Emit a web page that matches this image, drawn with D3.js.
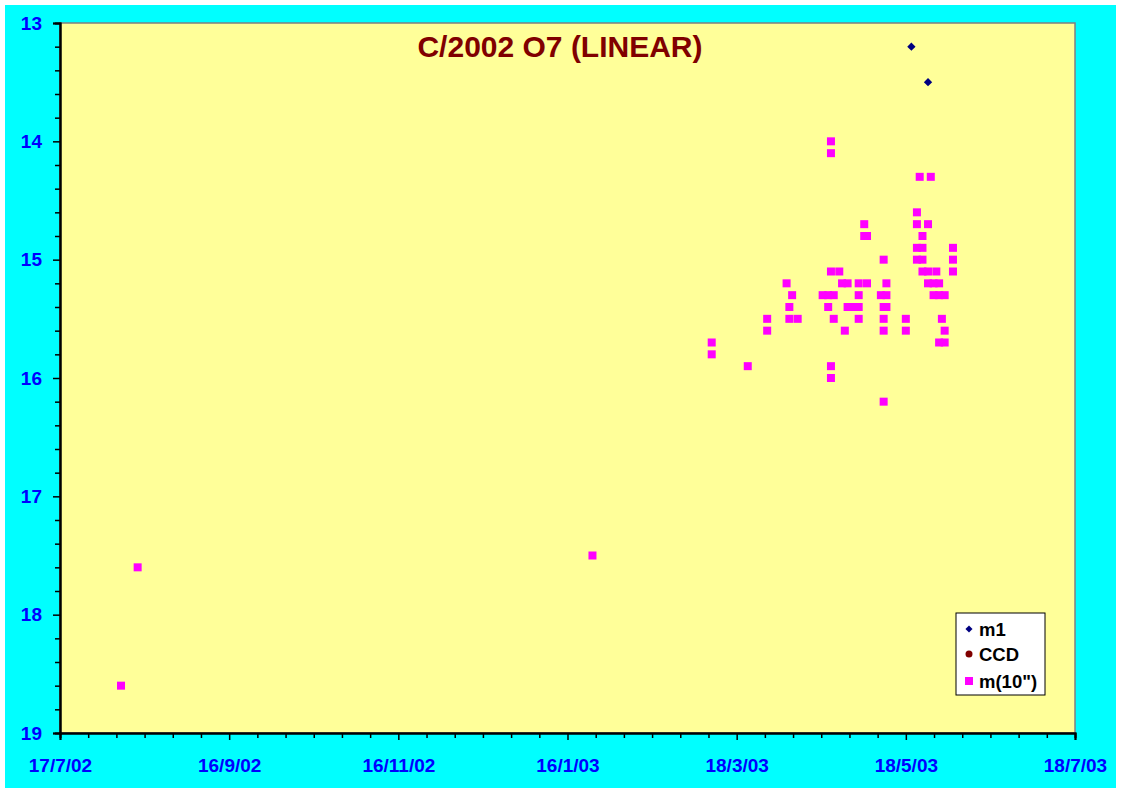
<!DOCTYPE html>
<html>
<head>
<meta charset="utf-8">
<script src="https://cdn.jsdelivr.net/npm/d3@7"></script>
<style>
  html, body { margin: 0; padding: 0; background: #ffffff; }
  svg { display: block; font-family: "Liberation Sans", Arial, sans-serif; }
</style>
</head>
<body>
<svg id="chart" width="1121" height="793"></svg>
<script>
// ---- data ----
const title = "C/2002 O7 (LINEAR)";
const xTickLabels = ["17/7/02", "16/9/02", "16/11/02", "16/1/03", "18/3/03", "18/5/03", "18/7/03"];
const yTicks = [13, 14, 15, 16, 17, 18, 19];
const seriesNames = ["m1", "CCD", "m(10\")"];

const m1Dates = ["2003-05-20", "2003-05-26"];
const m1Values = [13.2, 13.5];

const ccdDates = [];
const ccdValues = [];

const m10Dates = [
  "2002-08-08", "2002-08-14", "2003-01-25",
  "2003-03-09", "2003-03-09", "2003-03-22", "2003-03-29", "2003-03-29",
  "2003-04-05", "2003-04-06", "2003-04-07", "2003-04-06", "2003-04-09",
  "2003-04-18", "2003-04-20", "2003-04-22", "2003-04-20", "2003-04-22",
  "2003-04-21", "2003-04-21", "2003-04-21", "2003-04-24", "2003-04-21", "2003-04-21",
  "2003-04-25", "2003-04-27", "2003-04-27", "2003-04-29", "2003-05-01",
  "2003-04-26", "2003-05-01", "2003-05-04", "2003-05-01", "2003-05-01",
  "2003-05-03", "2003-05-03", "2003-05-04",
  "2003-05-10", "2003-05-11", "2003-05-09", "2003-05-11", "2003-05-10", "2003-05-11",
  "2003-05-10", "2003-05-10", "2003-05-10",
  "2003-05-18", "2003-05-18",
  "2003-05-23", "2003-05-27", "2003-05-22", "2003-05-22", "2003-05-26", "2003-05-24",
  "2003-05-22", "2003-05-24", "2003-06-04",
  "2003-05-22", "2003-05-24", "2003-06-04",
  "2003-05-24", "2003-05-26", "2003-05-29", "2003-06-04",
  "2003-05-26", "2003-05-28", "2003-05-30",
  "2003-05-28", "2003-05-30", "2003-06-01",
  "2003-05-31", "2003-06-01", "2003-05-30", "2003-06-01"
];
const m10Values = [
  18.6, 17.6, 17.5,
  15.7, 15.8, 15.9, 15.5, 15.6,
  15.2, 15.4, 15.3, 15.5, 15.5,
  15.3, 15.3, 15.3, 15.4, 15.5,
  14.0, 14.1, 15.1, 15.1, 15.9, 16.0,
  15.2, 15.2, 15.4, 15.4, 15.4,
  15.6, 15.2, 15.2, 15.3, 15.5,
  14.7, 14.8, 14.8,
  15.0, 15.2, 15.3, 15.3, 15.4, 15.4,
  15.5, 15.6, 16.2,
  15.5, 15.6,
  14.3, 14.3, 14.6, 14.7, 14.7, 14.8,
  14.9, 14.9, 14.9,
  15.0, 15.0, 15.0,
  15.1, 15.1, 15.1, 15.1,
  15.2, 15.2, 15.2,
  15.3, 15.3, 15.3,
  15.5, 15.6, 15.7, 15.7
];

// ---- layout ----
const svg = d3.select("#chart");
const plot = { left: 60, top: 23, right: 1075, bottom: 733 };

svg.append("rect").attr("x", 5).attr("y", 5).attr("width", 1111).attr("height", 783)
  .attr("fill", "#00FFFF");

const parse = d3.utcParse("%Y-%m-%d");
const xStart = parse("2002-07-17"), xEnd = parse("2003-07-18");
const x = d3.scaleUtc().domain([xStart, xEnd]).range([plot.left, plot.right]);
const y = d3.scaleLinear().domain([13, 19]).range([plot.top, plot.bottom]);

svg.append("rect")
  .attr("x", plot.left).attr("y", plot.top)
  .attr("width", plot.right - plot.left).attr("height", plot.bottom - plot.top)
  .attr("fill", "#FFFF99").attr("stroke", "#808080").attr("stroke-width", 1.5);

// Major x ticks every 61 days
const majorDates = xTickLabels.map((_, i) => d3.utcDay.offset(xStart, 61 * i));
const minorDates = [];
for (let i = 0; i < majorDates.length - 1; i++) {
  for (let k = 1; k < 6; k++) {
    minorDates.push(new Date(majorDates[i].getTime() + (majorDates[i + 1] - majorDates[i]) * k / 6));
  }
}

const fontFam = "Liberation Sans, Arial, sans-serif";

// x axis
const xAxisMinor = d3.axisBottom(x).tickValues(minorDates).tickSize(5).tickFormat("");
const xAxisMajor = d3.axisBottom(x).tickValues(majorDates).tickSize(7)
  .tickFormat((d, i) => xTickLabels[i]).tickPadding(19);
const gxMinor = svg.append("g").attr("transform", `translate(0,${plot.bottom})`).call(xAxisMinor);
const gx = svg.append("g").attr("transform", `translate(0,${plot.bottom})`).call(xAxisMajor);
[gxMinor, gx].forEach(g => {
  g.select(".domain").attr("stroke", "#000").attr("stroke-width", 2);
  g.selectAll(".tick line").attr("stroke", "#000").attr("stroke-width", 1.5);
});
gx.selectAll(".tick text").attr("fill", "#0000FF").attr("font-size", 19).attr("font-weight", "bold")
  .attr("font-family", fontFam);

// y axis
const yMinor = d3.range(13, 19.001, 0.2).map(v => +v.toFixed(1)).filter(v => !yTicks.includes(v));
const yAxisMinor = d3.axisLeft(y).tickValues(yMinor).tickSize(5).tickFormat("");
const yAxisMajor = d3.axisLeft(y).tickValues(yTicks).tickSize(7).tickPadding(11).tickFormat(d3.format("d"));
const gyMinor = svg.append("g").attr("transform", `translate(${plot.left},0)`).call(yAxisMinor);
const gy = svg.append("g").attr("transform", `translate(${plot.left},0)`).call(yAxisMajor);
[gyMinor, gy].forEach(g => {
  g.select(".domain").attr("stroke", "#000").attr("stroke-width", 2);
  g.selectAll(".tick line").attr("stroke", "#000").attr("stroke-width", 1.5);
});
gy.selectAll(".tick text").attr("fill", "#0000FF").attr("font-size", 19).attr("font-weight", "bold")
  .attr("font-family", fontFam);

// title
svg.append("text").attr("x", 560).attr("y", 57).attr("text-anchor", "middle")
  .attr("fill", "#800000").attr("font-size", 30).attr("font-weight", "bold")
  .text(title);

// series
const m10 = m10Dates.map((d, i) => ({ date: parse(d), v: m10Values[i] }));
const m1 = m1Dates.map((d, i) => ({ date: parse(d), v: m1Values[i] }));
const ccd = ccdDates.map((d, i) => ({ date: parse(d), v: ccdValues[i] }));

svg.append("g").selectAll("rect").data(m10).join("rect")
  .attr("x", d => x(d.date) - 4).attr("y", d => y(d.v) - 4)
  .attr("width", 8).attr("height", 8).attr("fill", "#FF00FF");

svg.append("g").selectAll("circle").data(ccd).join("circle")
  .attr("cx", d => x(d.date)).attr("cy", d => y(d.v)).attr("r", 3.5).attr("fill", "#800000");

const diamond = d3.symbol().type(d3.symbolDiamond2).size(44);
svg.append("g").selectAll("path").data(m1).join("path")
  .attr("transform", d => `translate(${x(d.date)},${y(d.v)})`)
  .attr("d", diamond).attr("fill", "#000080");

// legend
const lg = svg.append("g").attr("transform", "translate(956,613)");
lg.append("rect").attr("width", 89).attr("height", 82).attr("fill", "#FFFFFF")
  .attr("stroke", "#000").attr("stroke-width", 1);
const rowsY = [16, 41, 68];
lg.append("path").attr("transform", `translate(13,${rowsY[0]})`)
  .attr("d", d3.symbol().type(d3.symbolDiamond2).size(32)()).attr("fill", "#000080");
lg.append("circle").attr("cx", 13).attr("cy", rowsY[1]).attr("r", 3.5).attr("fill", "#800000");
lg.append("rect").attr("x", 9).attr("y", rowsY[2] - 4).attr("width", 8).attr("height", 8).attr("fill", "#FF00FF");
lg.selectAll("text.lbl").data(seriesNames).join("text").attr("class", "lbl")
  .attr("x", 23).attr("y", (d, i) => rowsY[i] + 6.5)
  .attr("font-size", 18.5).attr("font-weight", "bold").attr("fill", "#000")
  .text(d => d);
</script>
</body>
</html>
